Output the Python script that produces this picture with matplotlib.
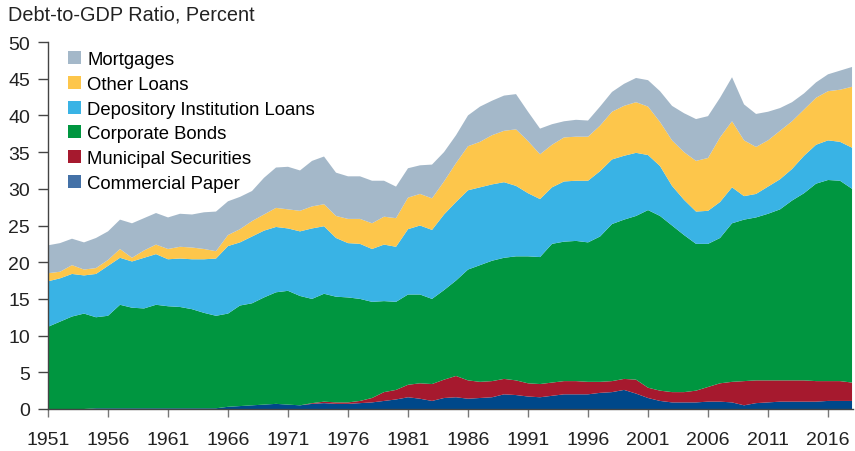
import numpy as np
import matplotlib.pyplot as plt
from matplotlib.patches import Patch

plt.rcParams['font.family'] = ['Liberation Sans', 'DejaVu Sans']

# Debt-to-GDP ratio by instrument, percent (annual)
years = np.arange(1951, 2019)

commercial_paper = [0.0, 0.0, 0.0, 0.0, 0.1, 0.1, 0.1, 0.1, 0.1, 0.1,
                    0.1, 0.1, 0.1, 0.1, 0.1, 0.3, 0.4, 0.5, 0.6, 0.7,
                    0.6, 0.5, 0.7, 0.8, 0.7, 0.7, 0.8, 0.9, 1.1, 1.3,
                    1.6, 1.4, 1.1, 1.5, 1.6, 1.4, 1.5, 1.6, 2.0, 1.9,
                    1.7, 1.6, 1.8, 2.0, 2.0, 2.0, 2.2, 2.3, 2.6, 2.1,
                    1.5, 1.1, 0.9, 0.9, 0.9, 1.0, 1.0, 0.9, 0.5, 0.8,
                    0.9, 1.0, 1.0, 1.0, 1.0, 1.1, 1.1, 1.1]
municipal = [0.0, 0.0, 0.0, 0.0, 0.0, 0.0, 0.0, 0.0, 0.0, 0.0,
             0.0, 0.0, 0.0, 0.0, 0.0, 0.0, 0.0, 0.0, 0.0, 0.0,
             0.0, 0.0, 0.1, 0.2, 0.2, 0.2, 0.3, 0.6, 1.2, 1.3,
             1.7, 2.1, 2.3, 2.5, 2.9, 2.5, 2.2, 2.2, 2.1, 2.0,
             1.8, 1.8, 1.8, 1.8, 1.8, 1.7, 1.5, 1.5, 1.5, 1.9,
             1.4, 1.4, 1.4, 1.4, 1.6, 2.0, 2.5, 2.8, 3.3, 3.1,
             3.0, 2.9, 2.9, 2.9, 2.8, 2.7, 2.7, 2.5]
corporate_bonds = [11.2, 11.9, 12.6, 13.0, 12.4, 12.6, 14.1, 13.7, 13.6, 14.1,
                   13.9, 13.8, 13.5, 13.0, 12.6, 12.7, 13.7, 13.9, 14.6, 15.2,
                   15.5, 14.9, 14.2, 14.7, 14.4, 14.3, 13.9, 13.1, 12.4, 12.0,
                   12.3, 12.1, 11.6, 12.2, 13.0, 15.1, 15.9, 16.4, 16.5, 16.9,
                   17.3, 17.3, 18.9, 19.0, 19.1, 19.0, 19.8, 21.4, 21.7, 22.3,
                   24.2, 23.8, 22.7, 21.4, 20.0, 19.5, 19.8, 21.6, 22.0, 22.2,
                   22.7, 23.3, 24.5, 25.5, 26.9, 27.4, 27.3, 26.4]
depository_loans = [6.2, 5.9, 5.8, 5.2, 5.9, 6.8, 6.4, 6.3, 6.9, 6.9,
                    6.4, 6.6, 6.8, 7.3, 7.8, 9.2, 8.6, 9.1, 9.1, 8.9,
                    8.5, 8.8, 9.6, 9.2, 8.0, 7.4, 7.5, 7.2, 7.7, 7.5,
                    8.9, 9.4, 9.4, 10.3, 10.7, 10.8, 10.6, 10.4, 10.3, 9.6,
                    8.6, 7.9, 7.7, 8.2, 8.2, 8.4, 8.9, 8.8, 8.7, 8.6,
                    7.5, 6.8, 5.4, 4.8, 4.4, 4.5, 4.9, 4.9, 3.2, 3.2,
                    3.7, 4.1, 4.3, 5.1, 5.3, 5.4, 5.3, 5.6]
other_loans = [1.1, 0.9, 1.2, 0.8, 0.8, 0.8, 1.2, 0.5, 1.0, 1.3,
               1.4, 1.6, 1.6, 1.4, 1.0, 1.5, 1.8, 2.1, 2.2, 2.6,
               2.6, 2.8, 3.0, 3.0, 3.0, 3.3, 3.4, 3.5, 3.8, 3.9,
               4.3, 4.3, 4.3, 4.5, 5.3, 6.0, 6.2, 6.7, 7.0, 7.7,
               7.1, 6.1, 5.8, 6.0, 6.0, 6.0, 6.2, 6.5, 6.8, 6.9,
               6.6, 6.0, 6.2, 6.5, 6.9, 7.2, 8.8, 9.0, 7.6, 6.4,
               6.3, 6.6, 6.5, 6.3, 6.4, 6.7, 7.1, 8.3]
mortgages = [3.8, 3.9, 3.6, 3.7, 4.1, 3.9, 4.0, 4.7, 4.4, 4.3,
             4.3, 4.5, 4.5, 5.0, 5.4, 4.6, 4.4, 4.1, 5.0, 5.5,
             5.8, 5.5, 6.2, 6.5, 5.9, 5.8, 5.8, 5.8, 4.9, 4.3,
             4.0, 3.9, 4.6, 4.0, 3.8, 4.2, 4.8, 4.7, 4.8, 4.8,
             4.0, 3.5, 2.8, 2.2, 2.3, 2.2, 2.6, 2.7, 3.0, 3.3,
             3.6, 4.2, 4.7, 5.3, 5.7, 5.7, 5.4, 6.0, 4.9, 4.5,
             3.9, 3.1, 2.6, 2.2, 2.1, 2.3, 2.6, 2.7]

labels = ['Commercial Paper', 'Municipal Securities', 'Corporate Bonds',
          'Depository Institution Loans', 'Other Loans', 'Mortgages']
fill_colors = ['#00488a', '#a6192e', '#009640', '#39b3e5', '#fdc64b', '#a4b8c9']
legend_colors = ['#4471a7', '#a6192e', '#009640', '#39b3e5', '#fdc64b', '#a4b8c9']

fig = plt.figure(figsize=(8.55, 4.52), dpi=100)
ax = fig.add_axes([48 / 855, 42 / 452, 805 / 855, 367 / 452])

ax.stackplot(years, commercial_paper, municipal, corporate_bonds,
             depository_loans, other_loans, mortgages,
             colors=fill_colors, linewidth=0)

ax.set_xlim(1951, 2018.08)
ax.set_ylim(0, 50)
ax.set_xticks(np.arange(1951, 2017, 5))
ax.set_yticks(np.arange(0, 51, 5))

for side in ['top', 'right']:
    ax.spines[side].set_visible(False)
for side in ['left', 'bottom']:
    ax.spines[side].set_color('#444444')
    ax.spines[side].set_linewidth(1.0)

ax.tick_params(axis='x', direction='out', length=6, width=1, color='#777777',
               pad=10, labelsize=14, labelcolor='#222222')
ax.tick_params(axis='y', direction='out', length=7, width=1, color='#444444',
               pad=6, labelsize=14, labelcolor='#222222')

handles = [Patch(facecolor=c, edgecolor='none') for c in legend_colors]
ax.legend(handles[::-1], labels[::-1], loc='upper left',
          bbox_to_anchor=(68 / 855, 1 - 52 / 452), bbox_transform=fig.transFigure,
          frameon=False, fontsize=13.3, handlelength=0.7, handleheight=0.7,
          handletextpad=0.35, labelspacing=0.42, borderaxespad=0, borderpad=0)

fig.text(8 / 855, 1 - 15 / 452, 'Debt-to-GDP Ratio, Percent', fontsize=14.3,
         color='#222222', va='center', ha='left')

fig.savefig('out.png', dpi=100)
